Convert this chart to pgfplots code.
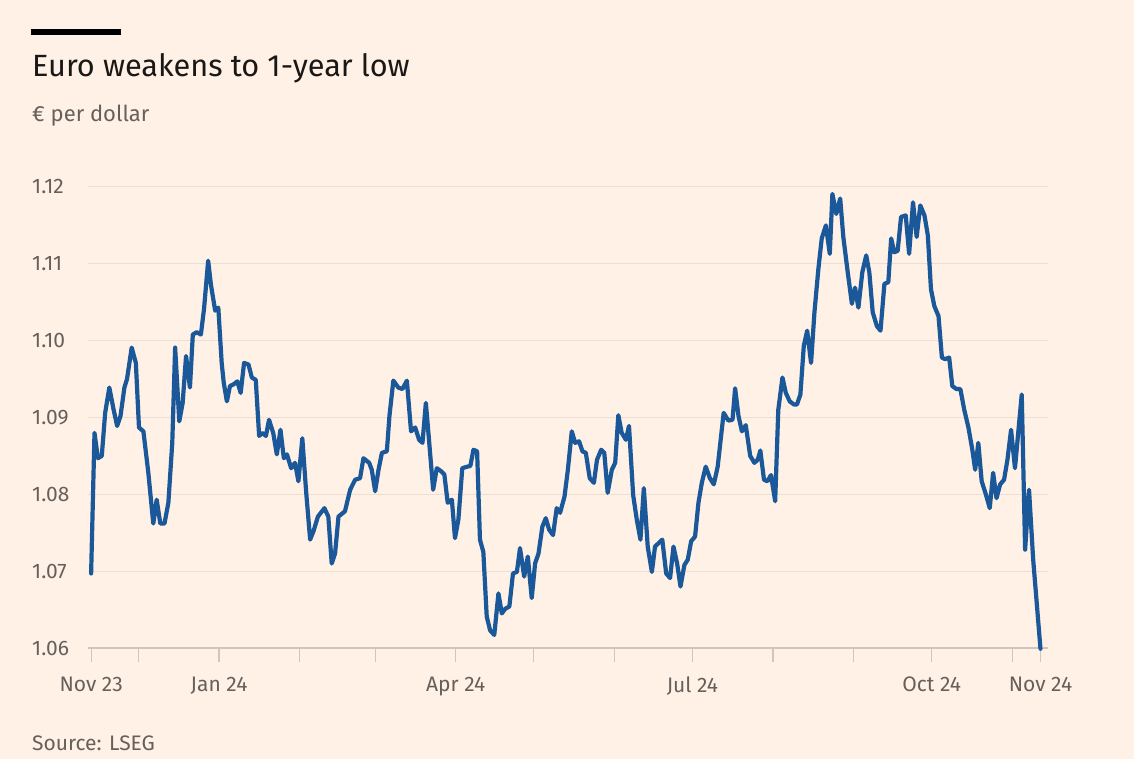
\documentclass[border=0pt]{standalone}
\usepackage{pgfplots}
\pgfplotsset{compat=1.18}
\usepackage{fontspec}
\setmainfont{Fira Sans}
\definecolor{ftbg}{HTML}{FFF1E5}
\definecolor{ftline}{HTML}{1A5899}
\definecolor{ftgrid}{HTML}{EBDFD4}
\definecolor{ftaxis}{HTML}{CFC6BD}
\definecolor{fttext}{HTML}{66605C}
\definecolor{fttitle}{HTML}{1A1817}
% x = days since 1 Nov 2023, y = exchange rate
\begin{document}
\begin{tikzpicture}
\fill[ftbg] (-88pt,-111pt) rectangle (1046pt,648pt);
\begin{axis}[
  at={(0pt,0pt)}, anchor=south west,
  scale only axis, width=960pt, height=461pt,
  xmin=10.6, xmax=379.7, ymin=1.06, ymax=1.12,
  axis x line*=bottom, axis y line*=left,
  y axis line style={draw=none},
  x axis line style={draw=ftaxis, line width=1.2pt},
  ytick={1.06,1.07,1.08,1.09,1.10,1.11,1.12},
  yticklabels={1.06,1.07,1.08,1.09,1.10,1.11,1.12},
  ytick style={draw=none},
  ymajorgrids, grid style={draw=ftgrid, line width=1pt},
  xtick={11.8,61,152,243,335,376.8},
  xticklabels={Nov 23,Jan 24,Apr 24,Jul 24,Oct 24,Nov 24},
  minor xtick={30,92,121,182,213,274,305,366},
  xtick style={draw=ftaxis, line width=1.2pt},
  tick align=outside, major tick length=14pt, minor tick length=14pt,
  tick label style={font=\fontsize{21}{25}\selectfont, text=fttext, inner sep=0pt},
  xticklabel style={anchor=north, yshift=-15pt},
  yticklabel style={anchor=west, xshift=-42pt},
  clip=false,
]
\addplot[color=ftline, line width=4.2pt, line join=round, line cap=round] coordinates {
(11.8,1.0697) (13.1,1.0880) (14.4,1.0847) (15.9,1.0850) (17.2,1.0906) (18.8,1.0939)
(20.4,1.0911) (21.8,1.0889) (23.1,1.0902) (24.6,1.0939) (25.6,1.0950) (27.4,1.0991)
(29.0,1.0971) (30.2,1.0887) (31.9,1.0882) (33.8,1.0828) (35.7,1.0762) (37.0,1.0793)
(38.4,1.0762) (40.0,1.0762) (41.5,1.0789) (43.0,1.0867) (44.1,1.0991) (45.7,1.0895)
(47.0,1.0919) (48.3,1.0980) (49.8,1.0939) (50.9,1.1008) (52.4,1.1011) (54.0,1.1008)
(55.2,1.1041) (56.8,1.1104) (57.9,1.1072) (59.5,1.1039) (60.7,1.1043) (62.0,1.0971)
(62.8,1.0945) (64.0,1.0921) (65.2,1.0941) (66.5,1.0943) (68.0,1.0947) (69.3,1.0932)
(70.6,1.0971) (72.3,1.0969) (73.6,1.0952) (75.1,1.0949) (76.4,1.0876) (77.6,1.0880)
(79.0,1.0876) (80.2,1.0897) (81.8,1.0880) (83.2,1.0852) (84.6,1.0884) (85.9,1.0847)
(87.1,1.0852) (88.7,1.0834) (90.2,1.0841) (91.5,1.0817) (93.0,1.0873) (94.5,1.0802)
(96.0,1.0741) (97.3,1.0752) (99.0,1.0771) (101.5,1.0782) (103.0,1.0771) (104.3,1.0710)
(105.6,1.0723) (106.9,1.0771) (109.4,1.0778) (111.4,1.0806) (113.3,1.0819) (115.2,1.0821)
(116.5,1.0847) (118.7,1.0841) (119.7,1.0832) (121.0,1.0804) (122.3,1.0832) (123.6,1.0854)
(125.5,1.0856) (126.5,1.0902) (128.0,1.0948) (129.9,1.0939) (131.5,1.0937) (133.2,1.0948)
(134.8,1.0882) (136.4,1.0887) (137.9,1.0871) (139.2,1.0867) (140.5,1.0919) (141.7,1.0871)
(143.3,1.0806) (144.7,1.0834) (146.4,1.0830) (147.6,1.0826) (148.9,1.0789) (150.5,1.0793)
(151.7,1.0743) (153.0,1.0767) (154.5,1.0834) (156.4,1.0836) (157.6,1.0837) (158.8,1.0858)
(160.2,1.0856) (161.3,1.0741) (162.6,1.0725) (163.9,1.0641) (165.2,1.0623) (166.8,1.0617)
(168.4,1.0671) (169.7,1.0645) (171.0,1.0651) (172.6,1.0654) (174.0,1.0697) (175.5,1.0699)
(176.7,1.0730) (178.3,1.0693) (179.7,1.0719) (181.2,1.0665) (182.5,1.0710) (183.8,1.0723)
(185.3,1.0758) (186.6,1.0769) (187.9,1.0754) (189.4,1.0747) (190.8,1.0782) (192.1,1.0776)
(193.8,1.0797) (195.1,1.0832) (196.6,1.0882) (197.9,1.0867) (199.4,1.0869) (200.7,1.0856)
(202.0,1.0854) (203.5,1.0821) (205.1,1.0815) (206.3,1.0845) (207.9,1.0858) (209.1,1.0854)
(210.4,1.0802) (212.0,1.0832) (213.3,1.0841) (214.5,1.0903) (215.8,1.0880) (217.4,1.0871)
(218.6,1.0889) (220.2,1.0799) (221.6,1.0767) (223.0,1.0741) (224.3,1.0808) (225.8,1.0732)
(227.4,1.0699) (228.6,1.0732) (231.4,1.0741) (232.9,1.0697) (234.4,1.0691) (235.7,1.0732)
(237.1,1.0710) (238.4,1.0680) (239.9,1.0708) (241.2,1.0715) (242.5,1.0739) (244.0,1.0745)
(245.3,1.0789) (246.6,1.0815) (248.1,1.0836) (249.7,1.0821) (251.2,1.0813) (252.7,1.0836)
(255.0,1.0906) (256.8,1.0896) (258.4,1.0897) (259.4,1.0938) (260.7,1.0902) (262.0,1.0882)
(263.5,1.0890) (265.2,1.0850) (266.8,1.0841) (268.1,1.0845) (269.1,1.0857) (270.5,1.0819)
(271.8,1.0817) (273.2,1.0825) (274.8,1.0791) (276.0,1.0910) (277.6,1.0952) (278.9,1.0932)
(280.4,1.0921) (282.0,1.0917) (283.2,1.0917) (284.5,1.0930) (285.8,1.0993) (287.1,1.1013)
(288.6,1.0971) (289.9,1.1037) (291.4,1.1093) (292.7,1.1133) (294.3,1.1150) (295.8,1.1113)
(296.8,1.1191) (298.3,1.1165) (299.8,1.1185) (301.0,1.1135) (302.7,1.1089) (304.3,1.1048)
(305.5,1.1069) (306.8,1.1043) (308.3,1.1089) (309.8,1.1111) (311.0,1.1089) (312.3,1.1037)
(313.9,1.1019) (315.3,1.1013) (316.8,1.1074) (318.3,1.1076) (319.4,1.1133) (320.6,1.1115)
(321.9,1.1117) (323.2,1.1161) (325.0,1.1163) (326.3,1.1113) (327.8,1.1180) (329.2,1.1135)
(330.6,1.1176) (332.2,1.1163) (333.5,1.1137) (334.7,1.1067) (336.0,1.1045) (337.6,1.1032)
(338.9,1.0978) (340.1,1.0976) (341.7,1.0978) (342.9,1.0941) (344.5,1.0937) (346.0,1.0937)
(347.5,1.0910) (349.1,1.0887) (350.6,1.0858) (351.7,1.0832) (352.9,1.0867) (354.2,1.0817)
(355.8,1.0800) (357.3,1.0782) (358.6,1.0828) (359.9,1.0795) (361.3,1.0813) (362.8,1.0819)
(364.1,1.0845) (365.5,1.0884) (367.0,1.0834) (369.6,1.0930) (370.9,1.0728) (372.4,1.0806)
(374.0,1.0715) (376.8,1.0599)
};
\end{axis}
\fill[black] (-57pt,612.5pt) rectangle (33pt,618.5pt);
\node[anchor=base west, inner sep=0pt, font=\fontsize{30.7}{36}\selectfont, text=fttitle] at (-56pt,571.3pt) {Euro weakens to 1-year low};
\node[anchor=base west, inner sep=0pt, font=\fontsize{22}{26}\selectfont, text=fttext] at (-56pt,526.3pt) {€ per dollar};
\node[anchor=base west, inner sep=0pt, font=\fontsize{21}{25}\selectfont, text=fttext] at (-56pt,-102.7pt) {Source: LSEG};
\end{tikzpicture}
\end{document}
